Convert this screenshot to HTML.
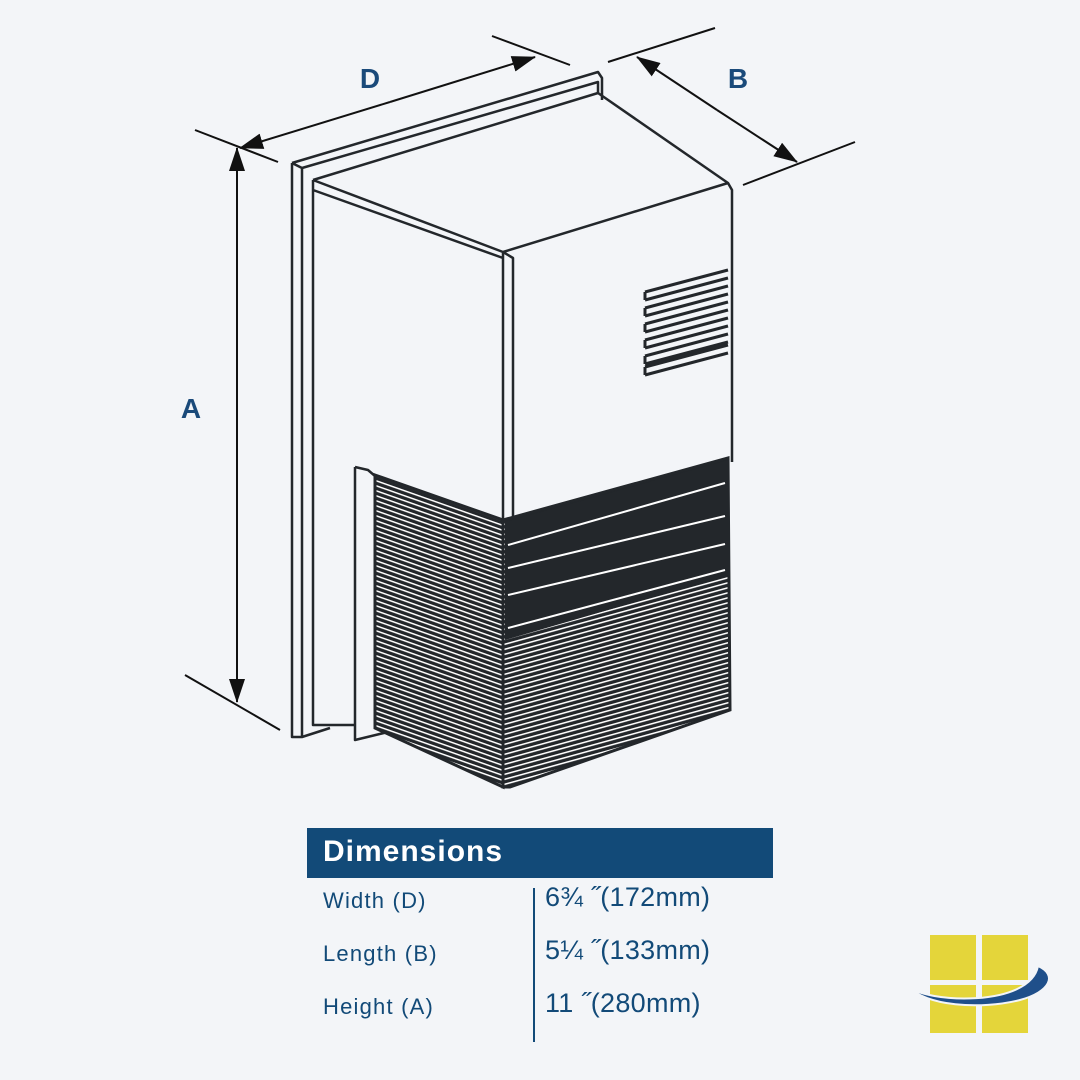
<!DOCTYPE html>
<html><head><meta charset="utf-8"><style>
html,body{margin:0;padding:0;background:#f3f5f8;}
svg{display:block}
</style></head><body>
<svg width="1080" height="1080" viewBox="0 0 1080 1080" xmlns="http://www.w3.org/2000/svg">
<defs>
<pattern id="pl" width="10" height="5" patternUnits="userSpaceOnUse" patternTransform="skewY(19.4)">
<rect width="10" height="5" fill="#23272b"/><rect y="2.5" width="10" height="1.6" fill="#fff"/></pattern>
<pattern id="pr" width="10" height="5" patternUnits="userSpaceOnUse" patternTransform="skewY(-15.4)">
<rect width="10" height="5" fill="#23272b"/><rect y="2.5" width="10" height="1.6" fill="#fff"/></pattern>
<marker id="ar" markerWidth="24" markerHeight="16" refX="23" refY="8" orient="auto" markerUnits="userSpaceOnUse" viewBox="0 0 24 16"><path d="M0,0 L24,8 L0,16z" fill="#111"/></marker>
</defs>
<rect width="1080" height="1080" fill="#f3f5f8"/>
<g fill="none" stroke="#23272b" stroke-width="2.5" stroke-linejoin="round">
<path d="M292,163 L598,72 L602,78 L602,100 M292,163 L292,737 L302,737 L302,168 L598,82 L598,93 M292,163 L302,168 M302,737 L330,728"/>
<path d="M313,180 L598,93 L728,183 L732,190 L732,462 M313,180 L503,252 L728,183 M313,180 L313,725 L355,725 M503,252 L513,258 L513,522 M503,252 L503,520 M313,190 L503,258"/>
<path d="M355,467 L355,740 L388,732 M355,467 L368,470 L375,476"/>
</g>
<g fill="none" stroke="#23272b" stroke-width="3" stroke-linejoin="round">
<path d="M645,292 L728,270 M645,300 L728,278 M645,292 L645,300 M645,308 L728,286 M645,316 L728,294 M645,308 L645,316 M645,324 L728,302 M645,332 L728,310 M645,324 L645,332 M645,340 L728,318 M645,348 L728,326 M645,340 L645,348 M645,356 L728,334 M645,364 L728,342 M645,356 L645,364 M645,367 L728,345 M645,375 L728,353 M645,367 L645,375"/>
</g>
<polygon points="375,475 503,520 503,787 375,728" fill="url(#pl)" stroke="#23272b" stroke-width="3"/>
<polygon points="503,520 728,458 730,710 510,787 503,787" fill="url(#pr)" stroke="#23272b" stroke-width="3"/>
<polygon points="505,522 728,460 728,575 505,640" fill="#23272b"/>
<g stroke="#fff" stroke-width="2">
<line x1="508" y1="545" x2="725" y2="483"/><line x1="508" y1="568" x2="725" y2="516"/>
<line x1="508" y1="595" x2="725" y2="544"/><line x1="508" y1="628" x2="725" y2="570"/>
</g>
<g stroke="#111" stroke-width="2" fill="none">
<line x1="195" y1="130" x2="278" y2="162"/><line x1="185" y1="675" x2="280" y2="730"/>
<line x1="237" y1="400" x2="237" y2="702" marker-end="url(#ar)"/>
<line x1="237" y1="400" x2="237" y2="148" marker-end="url(#ar)"/>
<line x1="492" y1="36" x2="570" y2="65"/>
<line x1="390" y1="102" x2="535" y2="57" marker-end="url(#ar)"/>
<line x1="390" y1="102" x2="240" y2="148" marker-end="url(#ar)"/>
<line x1="608" y1="62" x2="715" y2="28"/><line x1="743" y1="185" x2="855" y2="142"/>
<line x1="717" y1="110" x2="797" y2="162" marker-end="url(#ar)"/>
<line x1="717" y1="110" x2="637" y2="57" marker-end="url(#ar)"/>
</g>
<g font-family="Liberation Sans, sans-serif" font-weight="bold" font-size="28" fill="#1a4a7a" text-anchor="middle">
<text x="370" y="88">D</text><text x="738" y="88">B</text><text x="191" y="418">A</text>
</g>
<rect x="307" y="828" width="466" height="50" fill="#124a78"/>
<text x="323" y="861" font-family="Liberation Sans, sans-serif" font-weight="bold" font-size="30" fill="#fff" letter-spacing="1">Dimensions</text>
<line x1="534" y1="888" x2="534" y2="1042" stroke="#124a78" stroke-width="2"/>
<g font-family="Liberation Sans, sans-serif" font-size="22" fill="#124a78" letter-spacing="1.2">
<text x="323" y="908">Width (D)</text><text x="323" y="961">Length (B)</text><text x="323" y="1014">Height (A)</text>
</g>
<g font-family="Liberation Sans, sans-serif" font-size="27" fill="#124a78" letter-spacing="0.3">
<text x="545" y="906">6¾ ˝(172mm)</text><text x="545" y="959">5¼ ˝(133mm)</text><text x="545" y="1012">11 ˝(280mm)</text>
</g>
<g fill="#e4d53a">
<rect x="930" y="935" width="46" height="45"/><rect x="982" y="935" width="46" height="45"/>
<rect x="930" y="985" width="46" height="48"/><rect x="982" y="985" width="46" height="48"/>
</g>
<path d="M908,986 C925,1003 1030,1008 1038,966 C1058,975 1050,992 1020,1000 C980,1010 925,1006 908,986z" fill="#1f4f8a" stroke="#f3f5f8" stroke-width="2"/>
</svg>
</body></html>
